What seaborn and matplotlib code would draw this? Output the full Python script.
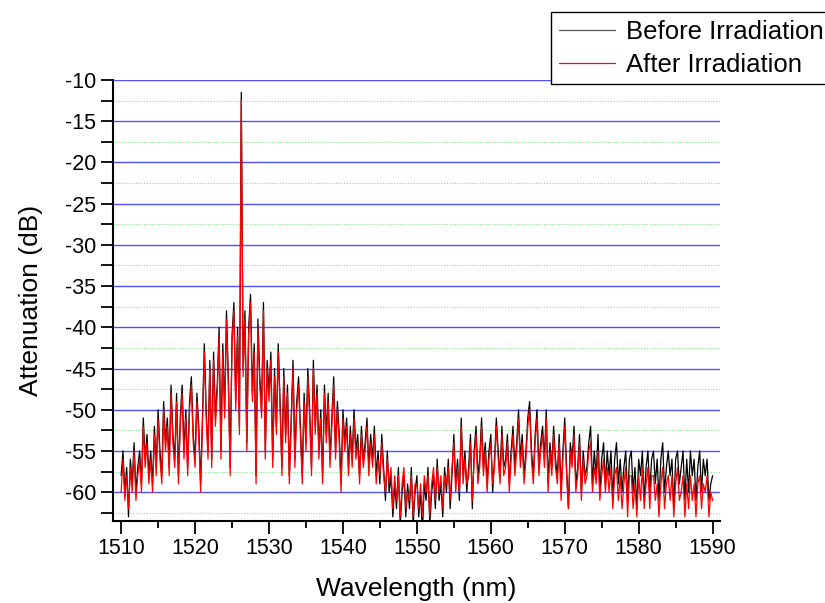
import numpy as np
import pandas as pd
import matplotlib
matplotlib.use("Agg")
import matplotlib.pyplot as plt
import seaborn as sns
from matplotlib.ticker import MultipleLocator
from matplotlib.lines import Line2D

# Wavelength grid: 1510 to 1590 nm in 0.25 nm steps
wl_start, wl_stop, wl_step = 1510.0, 1590.0, 0.25

before = [
    -58, -55, -60, -57,  -63, -56, -59, -54,  -60, -57, -55, -59,  -51, -56, -53, -58,
    -55, -59, -52, -57,  -50, -55, -58, -49,  -54, -51, -57, -47,  -53, -56, -48, -58,
    -51, -47, -55, -50,  -57, -49, -46, -53,  -56, -48, -52, -59,  -51, -42, -50, -55,
    -44, -56, -43, -51,  -47, -40, -55, -42,  -50, -38, -46, -57,  -41, -37, -49, -40,
    -52, -11.5, -45, -38,  -54, -40, -36, -48,  -42, -58, -39, -46,  -50, -37, -55, -44,
    -48, -43, -56, -45,  -52, -42, -49, -57,  -45, -53, -47, -58,  -51, -44, -56, -49,
    -46, -52, -58, -48,  -54, -45, -50, -57,  -44, -52, -47, -55,  -50, -58, -47, -53,
    -48, -56, -51, -46,  -55, -49, -53, -59,  -50, -54, -51, -57,  -52, -56, -50, -55,
    -53, -58, -52, -56,  -54, -51, -57, -53,  -56, -52, -58, -55,  -59, -53, -57, -61,
    -55, -60, -58, -63,  -59, -62, -57, -64,  -60, -58, -63, -59,  -62, -57, -64, -60,
    -58, -63, -60, -65,  -59, -61, -57, -64,  -60, -58, -62, -56,  -61, -59, -63, -57,
    -60, -56, -62, -58,  -53, -59, -56, -61,  -51, -58, -55, -60,  -57, -53, -62, -55,
    -52, -58, -56, -51,  -57, -54, -59, -55,  -53, -60, -56, -51,  -55, -58, -52, -57,
    -56, -53, -59, -55,  -52, -57, -54, -50,  -56, -53, -58, -55,  -51, -49, -55, -58,
    -53, -50, -57, -54,  -52, -56, -50, -59,  -54, -57, -52, -56,  -58, -53, -60, -55,
    -51, -57, -62, -54,  -56, -52, -59, -57,  -53, -60, -55, -58,  -57, -54, -52, -59,
    -55, -58, -53, -60,  -56, -54, -59, -55,  -58, -55, -61, -56,  -54, -59, -56, -60,
    -57, -55, -61, -56,  -55, -60, -57, -62,  -56, -58, -55, -61,  -57, -55, -60, -56,
    -55, -59, -56, -61,  -56, -54, -60, -57,  -55, -58, -56, -62,  -56, -55, -59, -57,
    -55, -61, -56, -60,  -55, -58, -56, -61,  -57, -55, -60, -56,  -58, -56, -61, -59,
    -58,
]

after = [
    -60, -56, -61, -58,  -62, -57, -60, -55,  -61, -58, -56, -60,  -52, -57, -54, -59,
    -56, -60, -53, -58,  -51, -56, -59, -50,  -55, -52, -58, -48,  -54, -57, -49, -59,
    -52, -48, -56, -51,  -58, -50, -47, -54,  -57, -49, -53, -60,  -52, -43, -51, -56,
    -45, -57, -44, -52,  -48, -41, -56, -43,  -51, -39, -47, -58,  -42, -38, -50, -41,
    -53, -12.5, -46, -39,  -55, -41, -37, -49,  -43, -59, -40, -47,  -51, -38, -56, -45,
    -49, -44, -57, -46,  -53, -43, -50, -58,  -46, -54, -48, -59,  -52, -45, -57, -50,
    -47, -53, -59, -49,  -55, -46, -51, -58,  -45, -53, -48, -56,  -51, -59, -48, -54,
    -49, -57, -52, -47,  -56, -50, -54, -60,  -51, -55, -52, -58,  -53, -57, -51, -56,
    -54, -59, -53, -57,  -55, -52, -58, -54,  -57, -53, -59, -56,  -58, -54, -58, -60,
    -56, -59, -57, -62,  -58, -61, -58, -63,  -59, -57, -62, -60,  -61, -58, -63, -59,
    -59, -62, -59, -63,  -58, -60, -58, -63,  -59, -57, -61, -57,  -60, -58, -62, -58,
    -59, -57, -61, -57,  -54, -60, -57, -60,  -52, -59, -56, -59,  -58, -54, -61, -56,
    -53, -59, -57, -52,  -58, -55, -60, -56,  -54, -59, -57, -52,  -56, -59, -53, -58,
    -57, -54, -60, -56,  -53, -58, -55, -51,  -57, -54, -59, -56,  -52, -50, -56, -59,
    -54, -51, -58, -55,  -53, -57, -51, -60,  -55, -58, -53, -57,  -59, -54, -61, -56,
    -52, -58, -62, -55,  -57, -53, -60, -58,  -54, -61, -56, -59,  -58, -55, -54, -60,
    -57, -59, -55, -61,  -58, -56, -60, -57,  -60, -57, -62, -58,  -57, -61, -58, -62,
    -59, -57, -63, -58,  -58, -62, -59, -63,  -58, -61, -57, -62,  -59, -57, -62, -58,
    -58, -61, -59, -63,  -59, -57, -62, -59,  -58, -61, -58, -63,  -59, -57, -61, -60,
    -58, -63, -59, -62,  -58, -61, -59, -63,  -59, -58, -62, -59,  -60, -58, -63, -60,
    -61,
]

wavelength = np.arange(len(before)) * wl_step + wl_start

df = pd.concat([
    pd.DataFrame({"Wavelength": wavelength, "Attenuation": before, "Series": "Before Irradiation"}),
    pd.DataFrame({"Wavelength": wavelength, "Attenuation": after, "Series": "After Irradiation"}),
])

sns.set_theme(style="white")
plt.rcParams["font.family"] = ["Liberation Sans", "DejaVu Sans"]
plt.rcParams["axes.unicode_minus"] = False
plt.rcParams["text.color"] = "black"

fig = plt.figure(figsize=(8.25, 6.03), dpi=100)
ax = fig.add_axes([113 / 825, 1 - 521 / 603, (720 - 113) / 825, (521 - 80) / 603])

sns.lineplot(data=df, x="Wavelength", y="Attenuation", hue="Series",
             palette={"Before Irradiation": "black", "After Irradiation": "red"},
             linewidth=0.9, ax=ax, legend=False, estimator=None, sort=False)

ax.set_xlim(1508.9, 1591.0)
ax.set_ylim(-63.5, -10)

ax.xaxis.set_major_locator(MultipleLocator(10))
ax.xaxis.set_minor_locator(MultipleLocator(5))
ax.yaxis.set_major_locator(MultipleLocator(5))
ax.yaxis.set_minor_locator(MultipleLocator(2.5))

ax.grid(False)
ax.grid(True, which="major", axis="y", color="#5050ff", linewidth=1.0, linestyle="-")
ax.grid(True, which="minor", axis="y", color="#7de87d", linewidth=0.8, linestyle=(0, (1, 1.5)))
ax.set_axisbelow(True)

for side in ["top", "right"]:
    ax.spines[side].set_visible(False)
for side in ["left", "bottom"]:
    ax.spines[side].set_color("black")
    ax.spines[side].set_linewidth(1.5)

ax.tick_params(axis="both", which="major", direction="out", length=9, width=1.3,
               color="black", labelsize=15.5, labelcolor="black", left=True, bottom=True, pad=3)
ax.tick_params(axis="both", which="minor", direction="out", length=5, width=1.3,
               color="black", left=True, bottom=True)
ax.tick_params(axis="y", which="minor", length=9)

ax.set_xlabel("Wavelength (nm)", fontsize=19, color="black", labelpad=13)
ax.set_ylabel("Attenuation (dB)", fontsize=19, color="black", labelpad=16)

handles = [Line2D([], [], color="#555555", lw=0.9), Line2D([], [], color="red", lw=0.9)]
leg = fig.legend(handles, ["Before Irradiation", "After Irradiation"],
                 loc="upper left", bbox_to_anchor=(551 / 825, 1 - 12 / 603),
                 fontsize=18.5, frameon=True, fancybox=False, framealpha=1,
                 edgecolor="black", handlelength=2.2, handletextpad=0.4,
                 borderpad=0.3, labelspacing=0.35, borderaxespad=0,
                 labelcolor="black")
leg.get_frame().set_linewidth(1.0)

fig.savefig("out.png", dpi=100)
